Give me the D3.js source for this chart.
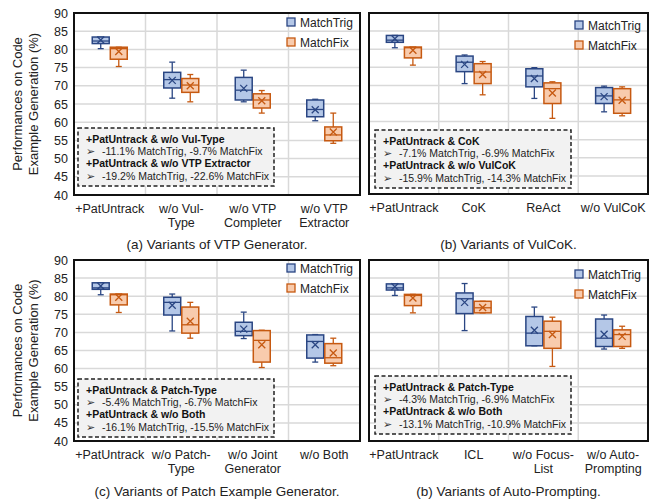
<!DOCTYPE html>
<html>
<head>
<meta charset="utf-8">
<script src="https://cdn.jsdelivr.net/npm/d3@7"></script>
<style>
  body { margin: 0; background: #fff; }
  svg { font-family: "Liberation Sans", Arial, sans-serif; }
</style>
</head>
<body>
<svg id="chart" width="650" height="500"></svg>
<script>
// values: [min, q1, median, q3, max, mean]
var seriesNames = ["MatchTrig", "MatchFix"];
var yTicks = [40, 45, 50, 55, 60, 65, 70, 75, 80, 85, 90];

var catsA = ["+PatUntrack", "w/o Vul-|Type", "w/o VTP|Completer", "w/o VTP|Extractor"];
var trigA = [[80.2, 81.6, 82.3, 83.4, 83.4, 82.6], [66.6, 69.4, 71.7, 73.7, 76.5, 71.5], [65.6, 66.1, 68.8, 72.3, 74.3, 69.3], [60.4, 61.5, 63.5, 66.1, 66.3, 63.4]];
var fixA  = [[75.3, 77.3, 80.2, 80.6, 80.6, 79.4], [65.6, 68.2, 70.2, 72.0, 73.1, 70.0], [62.5, 63.9, 66.1, 67.8, 68.7, 65.9], [54.2, 54.9, 56.5, 58.7, 62.5, 57.3]];
var notesA = ["+PatUntrack & w/o Vul-Type", "-11.1% MatchTrig, -9.7% MatchFix", "+PatUntrack & w/o VTP Extractor", "-19.2% MatchTrig, -22.6% MatchFix"];

var catsB = ["+PatUntrack", "CoK", "ReAct", "w/o VulCoK"];
var trigB = [[80.4, 81.9, 82.5, 83.8, 83.8, 82.9], [70.5, 73.8, 76.4, 78.1, 78.4, 75.8], [66.4, 69.6, 72.6, 74.6, 74.9, 71.9], [62.7, 65.0, 67.1, 69.4, 69.8, 66.9]];
var fixB  = [[75.6, 77.6, 80.4, 80.6, 80.6, 79.7], [67.4, 70.5, 73.7, 76.0, 76.6, 73.0], [60.9, 65.0, 69.1, 70.7, 71.0, 67.9], [61.6, 62.3, 66.0, 69.1, 69.6, 65.9]];
var notesB = ["+PatUntrack & CoK", "-7.1% MatchTrig, -6.9% MatchFix", "+PatUntrack & w/o VulCoK", "-15.9% MatchTrig, -14.3% MatchFix"];

var catsC = ["+PatUntrack", "w/o Patch-|Type", "w/o Joint|Generator", "w/o Both"];
var trigC = [[80.4, 81.9, 82.3, 83.7, 83.7, 82.8], [70.4, 74.8, 78.3, 79.7, 80.6, 77.5], [68.3, 69.1, 70.3, 72.8, 75.6, 70.9], [61.8, 62.9, 67.5, 69.3, 69.4, 66.6]];
var fixC  = [[75.5, 77.6, 80.4, 80.6, 80.6, 79.7], [68.4, 69.8, 72.1, 77.0, 78.3, 73.1], [60.3, 61.8, 67.8, 70.5, 70.6, 66.6], [60.8, 61.5, 63.0, 66.9, 68.4, 64.3]];
var notesC = ["+PatUntrack & Patch-Type", "-5.4% MatchTrig, -6.7% MatchFix", "+PatUntrack & w/o Both", "-16.1% MatchTrig, -15.5% MatchFix"];

var catsD = ["+PatUntrack", "ICL", "w/o Focus-|List", "w/o Auto-|Prompting"];
var trigD = [[80.2, 81.7, 82.3, 83.4, 83.4, 82.6], [70.5, 75.2, 79.3, 80.9, 83.5, 78.3], [66.3, 66.3, 69.8, 74.4, 77.0, 70.6], [65.4, 66.1, 68.4, 73.7, 74.8, 69.5]];
var fixD  = [[75.4, 77.4, 80.2, 80.5, 80.5, 79.5], [75.4, 75.4, 76.8, 78.6, 78.6, 76.9], [60.6, 65.6, 70.3, 73.1, 74.2, 69.4], [65.6, 66.1, 69.4, 70.7, 71.7, 68.9]];
var notesD = ["+PatUntrack & Patch-Type", "-4.3% MatchTrig, -6.9% MatchFix", "+PatUntrack & w/o Both", "-13.1% MatchTrig, -10.9% MatchFix"];

var strokeCol = { MatchTrig: "#2a4683", MatchFix: "#c65911" };
var fillCol = { MatchTrig: "#b4c7e7", MatchFix: "#f8cbad" };

var svg = d3.select("#chart");

var panels = [
  { x0: 74, x1: 360, y0: 13, y1: 195, cats: catsA, trig: trigA, fix: fixA, notes: notesA, ticks: true, leg: 5, note: [4, 115], caption: "(a) Variants of VTP Generator." },
  { x0: 369, x1: 648, y0: 13, y1: 194, cats: catsB, trig: trigB, fix: fixB, notes: notesB, ticks: false, leg: 8, note: [6, 117], caption: "(b) Variants of VulCoK." },
  { x0: 74, x1: 360, y0: 260, y1: 441, cats: catsC, trig: trigC, fix: fixC, notes: notesC, ticks: true, leg: 4, note: [4, 119], caption: "(c) Variants of Patch Example Generator." },
  { x0: 369, x1: 648, y0: 260, y1: 441, cats: catsD, trig: trigD, fix: fixD, notes: notesD, ticks: false, leg: 10, note: [6, 116], caption: "(b) Variants of Auto-Prompting." }
];

panels.forEach(function(p) {
  var y = d3.scaleLinear().domain([40, 90]).range([p.y1, p.y0]);
  var x = d3.scaleBand().domain(p.cats).range([p.x0, p.x1]);
  var bw = x.bandwidth();
  var inner = d3.scaleBand().domain(seriesNames)
    .range([bw / 2 - 17.5, bw / 2 + 17.5]).paddingInner(0.06);

  var g = svg.append("g");

  // grid
  g.selectAll(".hg").data(yTicks).enter().append("line")
    .attr("x1", p.x0).attr("x2", p.x1)
    .attr("y1", function(d) { return y(d); }).attr("y2", function(d) { return y(d); })
    .attr("stroke", "#d9d9d9").attr("stroke-width", 1.5);
  g.selectAll(".vg").data(p.cats.slice(1)).enter().append("line")
    .attr("x1", function(d) { return x(d); }).attr("x2", function(d) { return x(d); })
    .attr("y1", p.y0).attr("y2", p.y1)
    .attr("stroke", "#d9d9d9").attr("stroke-width", 1.5);

  // y ticks
  if (p.ticks) {
    g.append("g")
      .attr("transform", "translate(" + p.x0 + ",0)")
      .call(d3.axisLeft(y).tickValues(yTicks).tickSize(0).tickPadding(6))
      .call(function(a) { a.select(".domain").remove(); })
      .selectAll("text")
      .attr("font-size", 12.5).attr("fill", "#222")
      .attr("font-family", "Liberation Sans, Arial, sans-serif");
  }

  // boxes
  seriesNames.forEach(function(s) {
    var data = s === "MatchTrig" ? p.trig : p.fix;
    var w = inner.bandwidth();
    var bg = g.selectAll(".b" + s).data(data).enter().append("g")
      .attr("transform", function(d, i) { return "translate(" + (x(p.cats[i]) + inner(s)) + ",0)"; });
    var c = strokeCol[s];
    // whiskers
    bg.append("line").attr("x1", w / 2).attr("x2", w / 2)
      .attr("y1", function(d) { return y(d[0]); }).attr("y2", function(d) { return y(d[1]); })
      .attr("stroke", c).attr("stroke-width", 1.3);
    bg.append("line").attr("x1", w / 2).attr("x2", w / 2)
      .attr("y1", function(d) { return y(d[3]); }).attr("y2", function(d) { return y(d[4]); })
      .attr("stroke", c).attr("stroke-width", 1.3);
    bg.append("line").attr("x1", w / 2 - 3).attr("x2", w / 2 + 3)
      .attr("y1", function(d) { return y(d[0]); }).attr("y2", function(d) { return y(d[0]); })
      .attr("stroke", c).attr("stroke-width", 1.3);
    bg.append("line").attr("x1", w / 2 - 3).attr("x2", w / 2 + 3)
      .attr("y1", function(d) { return y(d[4]); }).attr("y2", function(d) { return y(d[4]); })
      .attr("stroke", c).attr("stroke-width", 1.3);
    bg.append("rect").attr("x", 0).attr("width", w)
      .attr("y", function(d) { return y(d[3]); })
      .attr("height", function(d) { return y(d[1]) - y(d[3]); })
      .attr("fill", fillCol[s]).attr("stroke", c).attr("stroke-width", 1.5);
    bg.append("line").attr("x1", 0).attr("x2", w)
      .attr("y1", function(d) { return y(d[2]); }).attr("y2", function(d) { return y(d[2]); })
      .attr("stroke", c).attr("stroke-width", 1.3);
    // mean marker X
    bg.append("path")
      .attr("d", function(d) {
        var cy = y(d[5]), cx = w / 2, r = 3.5;
        return "M" + (cx - r) + "," + (cy - r) + "L" + (cx + r) + "," + (cy + r) +
               "M" + (cx - r) + "," + (cy + r) + "L" + (cx + r) + "," + (cy - r);
      })
      .attr("stroke", c).attr("stroke-width", 1.3).attr("fill", "none");
  });

  // frame
  g.append("rect").attr("x", p.x0).attr("y", p.y0)
    .attr("width", p.x1 - p.x0).attr("height", p.y1 - p.y0)
    .attr("fill", "none").attr("stroke", "#111").attr("stroke-width", 2);

  // legend
  var lx = p.x1 - 73, ly = p.y0 + p.leg;
  seriesNames.forEach(function(s, i) {
    g.append("rect").attr("x", lx).attr("y", ly + i * 20).attr("width", 8).attr("height", 8)
      .attr("fill", fillCol[s]).attr("stroke", strokeCol[s]).attr("stroke-width", 1.3);
    g.append("text").attr("x", lx + 13).attr("y", ly + i * 20 + 8.5)
      .attr("font-size", 12).attr("fill", "#222").text(s);
  });

  // note box
  var nx = p.x0 + p.note[0], ny = p.y0 + p.note[1];
  g.append("rect").attr("x", nx).attr("y", ny).attr("width", 196).attr("height", 58)
    .attr("fill", "#f2f2f2").attr("stroke", "#222").attr("stroke-width", 1.5)
    .attr("stroke-dasharray", "4,2.5");
  p.notes.forEach(function(t, i) {
    if (i % 2 === 0) {
      g.append("text").attr("x", nx + 8).attr("y", ny + 15 + i * 12.2)
        .attr("font-size", 10.5).attr("font-weight", "bold").attr("fill", "#111").text(t);
    } else {
      g.append("text").attr("x", nx + 8).attr("y", ny + 15 + i * 12.2)
        .attr("font-size", 11).attr("fill", "#333")
        .attr("font-family", "DejaVu Sans, sans-serif").text("\u27A2");
      g.append("text").attr("x", nx + 24).attr("y", ny + 15 + i * 12.2)
        .attr("font-size", 10.5).attr("fill", "#222").text(t);
    }
  });

  // category labels
  p.cats.forEach(function(c) {
    var lines = c.split("|");
    var t = g.append("text").attr("text-anchor", "middle")
      .attr("x", x(c) + bw / 2).attr("y", p.y1 + 18)
      .attr("font-size", 12.5).attr("fill", "#222");
    lines.forEach(function(l, i) {
      t.append("tspan").attr("x", x(c) + bw / 2).attr("dy", i === 0 ? 0 : 14).text(l);
    });
  });

  // caption
  g.append("text").attr("text-anchor", "middle")
    .attr("x", (p.x0 + p.x1) / 2).attr("y", p.y0 + 236)
    .attr("font-size", 13.5).attr("fill", "#222").text(p.caption);

  // y title
  if (p.ticks) {
    var cy = (p.y0 + p.y1) / 2;
    var tt = svg.append("text").attr("text-anchor", "middle")
      .attr("transform", "translate(22," + cy + ") rotate(-90)")
      .attr("font-size", 13).attr("fill", "#222");
    tt.append("tspan").attr("x", 0).attr("dy", 0).text("Performances on Code");
    tt.append("tspan").attr("x", 0).attr("dy", 16).text("Example Generation (%)");
  }
});
</script>
</body>
</html>
